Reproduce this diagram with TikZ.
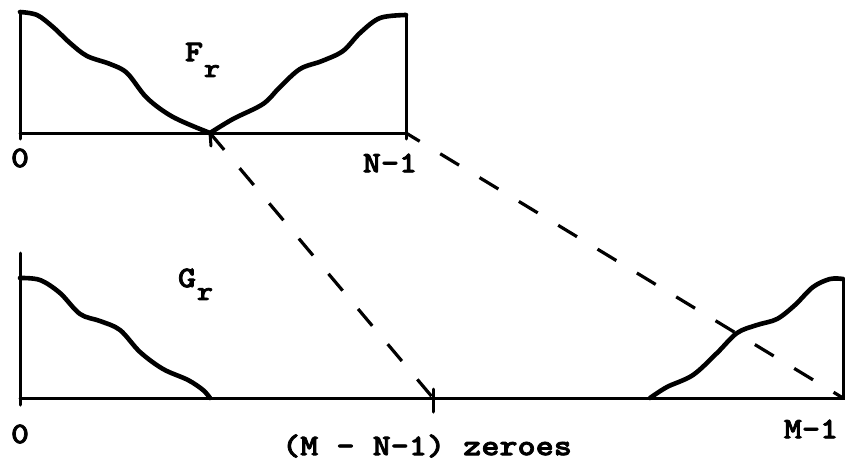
\documentclass[tikz,border=0pt]{standalone}
\usepackage{fontspec}
\newfontfamily\twfont{lmmonolt10-bold.otf}[FakeStretch=1.15,FakeBold=2.5]
\begin{document}
\begin{tikzpicture}[x=1pt,y=-1pt,
  axis/.style={line width=3pt, line cap=round},
  curve/.style={line width=4.6pt, line cap=round, line join=round},
  dashline/.style={line width=3.2pt, dash pattern=on 22pt off 24pt},
  lbl/.style={font=\twfont\fontsize{30}{32}\selectfont, inner sep=0pt},
  sub/.style={font=\twfont\fontsize{27}{29}\selectfont, inner sep=0pt}]
\useasboundingbox (0,0) rectangle (845,463);
% named points
\coordinate (tl0) at (20,12);
\coordinate (to) at (20,133);
\coordinate (tx) at (20,139);
\coordinate (tmid) at (210,133);
\coordinate (tend) at (406,133);
\coordinate (ttop) at (406,15);
\coordinate (bl0) at (20,253);
\coordinate (bo) at (20,398);
\coordinate (bx) at (20,405);
\coordinate (bz) at (433,398);
\coordinate (bend) at (843,398);
\coordinate (btop) at (843,279);
% top plot axes
\draw[axis] (tl0) -- (tx);
\draw[axis] (to) -- (tend) -- (ttop);
\draw[axis] (tmid) -- ++(1,13);
\draw[axis] (tend) -- ++(0,6);
% top curves
\draw[curve] plot[smooth, tension=0.55] coordinates {(20,12) (37,15) (53,27) (70,43) (87,56) (110,64) (127,73) (147,98) (173,117) (210,133)};
\draw[curve] plot[smooth, tension=0.55] coordinates {(210,133) (233,119) (263,104) (280,87) (300,69) (322,61) (343,51) (360,33) (380,18) (406,15)};
% bottom plot axes
\draw[axis] (bl0) -- (bx);
\draw[axis] (bo) -- (bend) -- (btop);
\draw[axis] (bz) ++(0,-9) -- ++(0,23);
% bottom curves
\draw[curve] plot[smooth, tension=0.55] coordinates {(20,278) (40,280) (60,293) (80,314) (100,321) (120,330) (140,352) (163,369) (188,380) (203,390) (210,398)};
\draw[curve] plot[smooth, tension=0.55] coordinates {(650,398) (667,387) (693,375) (717,353) (737,333) (757,325) (777,319) (795,305) (813,287) (830,279) (843,279)};
% dashed connectors
\draw[dashline] (tmid) -- (bz);
\draw[dashline, dash phase=6pt] (tend) -- (bend);
% labels
\node[lbl] (fF) at (194,52) {F};
\node[sub] (fr) at (212,71) {r};
\node[lbl] (gG) at (187,278) {G};
\node[sub] (gr) at (205,294) {r};
\node[lbl] (l0a) at (20,158) {0};
\node[lbl] (lN) at (390,163) {N-1};
\node[lbl] (l0b) at (20,434) {0};
\node[lbl] (lM) at (811,429) {M-1};
\node[lbl] (lz) at (427,446) {(M - N-1) zeroes};
\end{tikzpicture}
\end{document}
